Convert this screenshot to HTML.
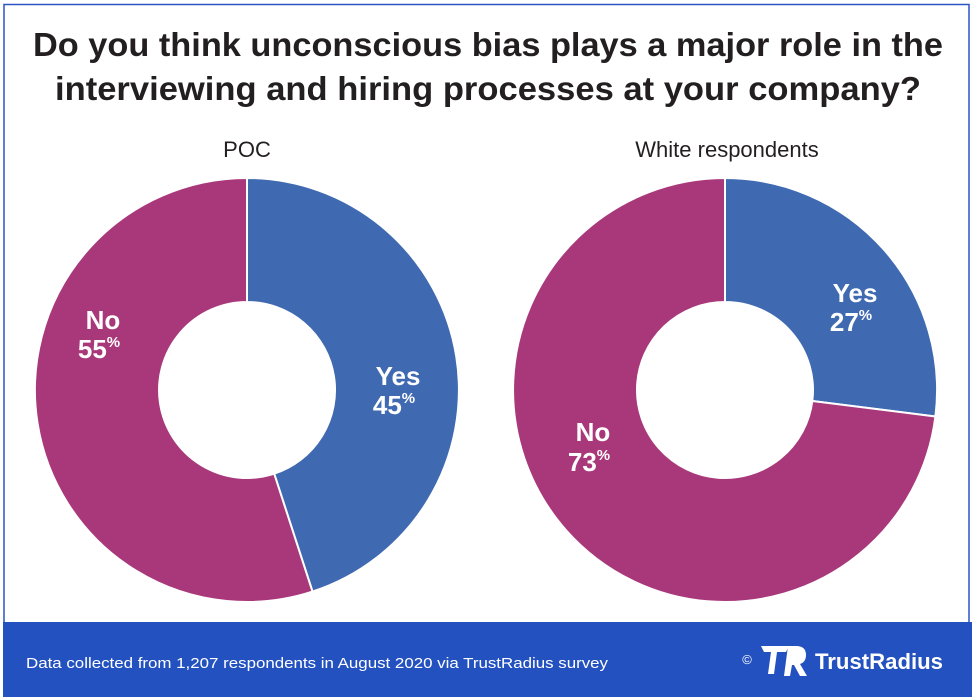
<!DOCTYPE html>
<html><head><meta charset="utf-8"><style>
html,body{margin:0;padding:0;background:#fff;}
svg{display:block;font-family:"Liberation Sans",sans-serif;}
</style></head><body>
<svg width="974" height="697" viewBox="0 0 974 697" xmlns="http://www.w3.org/2000/svg">
<rect x="0" y="0" width="974" height="697" fill="#fff"/>
<rect x="4" y="4.5" width="965" height="640" fill="none" stroke="#2a55c3" stroke-width="1.5"/>
<text x="488" y="56" text-anchor="middle" font-size="33" font-weight="bold" fill="#231f20" textLength="910" lengthAdjust="spacingAndGlyphs">Do you think unconscious bias plays a major role in the</text>
<text x="488" y="100" text-anchor="middle" font-size="33" font-weight="bold" fill="#231f20" textLength="866" lengthAdjust="spacingAndGlyphs">interviewing and hiring processes at your company?</text>
<text x="247" y="157" text-anchor="middle" font-size="22" fill="#231f20">POC</text>
<text x="727" y="157" text-anchor="middle" font-size="22" fill="#231f20">White respondents</text>
<!-- POC donut -->
<g stroke="#fff" stroke-width="2">
<path d="M247 178 A212 212 0 0 1 312.5 591.6 L274.2 473.7 A88 88 0 0 0 247 302 Z" fill="#3f69b1"/>
<path d="M312.5 591.6 A212 212 0 1 1 247 178 L247 302 A88 88 0 1 0 274.2 473.7 Z" fill="#a8387a"/>
<path d="M725 178 A212 212 0 0 1 935.4 416.5 L812.3 401 A88 88 0 0 0 725 302 Z" fill="#3f69b1"/>
<path d="M935.4 416.5 A212 212 0 1 1 725 178 L725 302 A88 88 0 1 0 812.3 401 Z" fill="#a8387a"/>
</g>
<g fill="#fff" font-weight="bold" text-anchor="middle">
<text x="398" y="385" font-size="26">Yes</text>
<text x="394" y="414" font-size="26">45<tspan font-size="15" dy="-11">%</tspan></text>
<text x="103" y="329" font-size="26">No</text>
<text x="99" y="358" font-size="26">55<tspan font-size="15" dy="-11">%</tspan></text>
<text x="855" y="302" font-size="26">Yes</text>
<text x="851" y="331" font-size="26">27<tspan font-size="15" dy="-11">%</tspan></text>
<text x="593" y="441" font-size="26">No</text>
<text x="589" y="471" font-size="26">73<tspan font-size="15" dy="-11">%</tspan></text>
</g>
<rect x="3" y="622" width="969" height="75" fill="#2352c0"/>
<text x="26" y="668" font-size="15" fill="#fff" textLength="582" lengthAdjust="spacingAndGlyphs">Data collected from 1,207 respondents in August 2020 via TrustRadius survey</text>
<text x="747" y="664" font-size="13" fill="#fff" text-anchor="middle">©</text>
<g fill="#fff">
<path d="M761 646 h28 l-3 6 h-9 l-3 22 h-6 l3 -22 h-7 z"/>
<path d="M788 646 h8 q10 0 10 9 q0 7 -6 9 l7 12 h-7 l-6 -11 h-2 l-2 11 h-6 z"/>
</g>
<text x="815" y="669" font-size="22" font-weight="bold" fill="#fff" textLength="128" lengthAdjust="spacingAndGlyphs">TrustRadius</text>
</svg>
</body></html>
